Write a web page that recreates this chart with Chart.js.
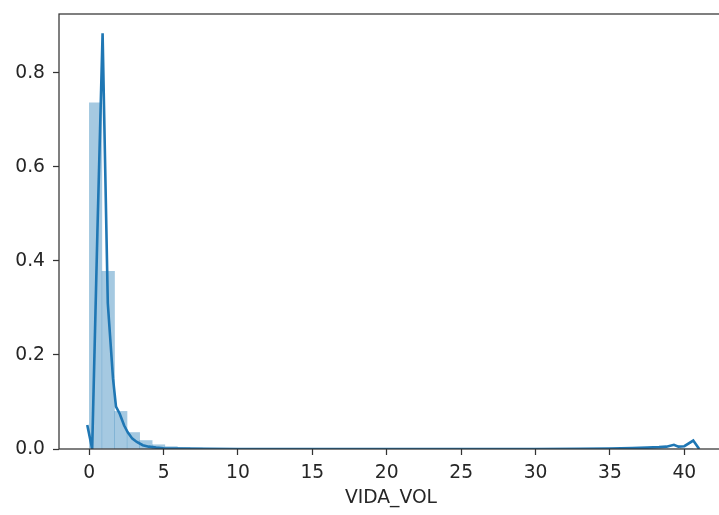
<!DOCTYPE html>
<html>
<head>
<meta charset="utf-8">
<script src="https://cdn.jsdelivr.net/npm/chart.js@4"></script>
<style>
    html, body { margin: 0; padding: 0; background: #fff; overflow: hidden; }
    #wrap { width: 724px; height: 515px; }
</style>
</head>
<body>
<div id="wrap"><canvas id="distChart" width="724" height="515"></canvas></div>
<script>
// histogram bins (centres) and density heights
const binCenters = [0.43, 1.28, 2.12, 2.97, 3.81, 4.66, 5.50, 6.35, 7.19, 8.04, 8.88, 9.73,
    10.57, 11.42, 12.26, 13.11, 13.95, 14.80, 15.64, 16.49, 17.33, 18.18, 19.02, 19.87,
    20.71, 21.56, 22.40, 23.25, 24.09, 24.94, 25.78, 26.63, 27.47, 28.32, 29.16, 30.01,
    30.85, 31.70, 32.54, 33.39, 34.23, 35.08, 35.92, 36.77, 37.61, 38.46, 39.30, 40.15];
const binDensity = [0.736, 0.378, 0.080, 0.035, 0.018, 0.009, 0.005, 0.003, 0.002, 0.001, 0.001, 0,
    0, 0, 0, 0, 0, 0, 0, 0, 0, 0, 0, 0,
    0, 0, 0, 0, 0, 0, 0, 0, 0, 0, 0, 0,
    0, 0, 0, 0, 0, 0, 0, 0, 0, 0, 0, 0.001];

// kde curve
const kdeX = [-0.13, 0.20, 0.55, 0.90, 1.25, 1.60, 1.80, 2.05, 2.35, 2.60, 2.90, 3.20, 3.60,
    4.00, 4.50, 5.00, 6.00, 8.00, 10.0, 15.0, 20.0, 25.0, 30.0, 33.0, 35.0, 36.5, 37.5,
    38.3, 38.8, 39.3, 39.6, 40.0, 40.6, 41.0];
const kdeY = [0.051, 0.0, 0.46, 0.884, 0.31, 0.15, 0.090, 0.075, 0.050, 0.035, 0.022, 0.015, 0.008,
    0.005, 0.003, 0.0015, 0.0008, 0.0003, 0.0001, 0, 0, 0, 0, 0.0005, 0.001, 0.002, 0.003,
    0.004, 0.005, 0.009, 0.005, 0.006, 0.018, 0.0];

const xTicks = [0, 5, 10, 15, 20, 25, 30, 35, 40];
const yTicks = [0.0, 0.2, 0.4, 0.6, 0.8];
const xLabel = 'VIDA_VOL';

const tickFont = { family: 'DejaVu Sans', size: 18.7 };
const inkColor = '#262626';
const spineColor = '#333333';

// matplotlib style box round the plot area
const spines = {
    id: 'spines',
    afterDatasetsDraw(chart) {
        const { ctx, chartArea: a } = chart;
        ctx.save();
        ctx.strokeStyle = spineColor;
        ctx.lineWidth = 1.25;
        ctx.strokeRect(a.left, a.top, a.right - a.left, a.bottom - a.top);
        ctx.restore();
    }
};

new Chart(document.getElementById('distChart'), {
    data: {
        datasets: [
            {
                type: 'line',
                data: kdeX.map((x, i) => ({ x: x, y: kdeY[i] })),
                borderColor: '#1f77b4',
                borderWidth: 2.6,
                pointRadius: 0,
                tension: 0,
                order: 0
            },
            {
                type: 'bar',
                data: binCenters.map((x, i) => ({ x: x, y: binDensity[i] })),
                backgroundColor: 'rgba(31,119,180,0.4)',
                borderWidth: 0,
                barPercentage: 1,
                categoryPercentage: 1,
                order: 1
            }
        ]
    },
    plugins: [spines],
    options: {
        responsive: false,
        animation: false,
        layout: { autoPadding: false, padding: { top: 14, right: 1, left: 0, bottom: 0 } },
        plugins: { legend: { display: false }, tooltip: { enabled: false } },
        scales: {
            x: {
                type: 'linear',
                min: -2.03,
                max: 42.6,
                offset: false,
                afterFit: (axis) => {
                    axis.height = 66;
                    axis.paddingLeft = 0;
                    axis.paddingRight = 0;
                },
                afterBuildTicks: (axis) => { axis.ticks = xTicks.map(v => ({ value: v })); },
                border: { display: false },
                grid: { offset: false, drawOnChartArea: false, drawTicks: true, tickLength: 6, tickColor: spineColor, tickWidth: 1.25 },
                ticks: { font: tickFont, color: inkColor, padding: 7, maxRotation: 0 },
                title: { display: true, text: xLabel, font: tickFont, color: inkColor, padding: { top: 0, bottom: 6 } }
            },
            y: {
                type: 'linear',
                min: 0,
                max: 0.925,
                afterFit: (axis) => {
                    axis.width = 59;
                    axis.paddingTop = 0;
                    axis.paddingBottom = 0;
                },
                afterBuildTicks: (axis) => { axis.ticks = yTicks.map(v => ({ value: v })); },
                border: { display: false },
                grid: { drawOnChartArea: false, drawTicks: true, tickLength: 6, tickColor: spineColor, tickWidth: 1.25 },
                ticks: { font: tickFont, color: inkColor, padding: 8, callback: (v) => v.toFixed(1) }
            }
        }
    }
});
</script>
</body>
</html>
